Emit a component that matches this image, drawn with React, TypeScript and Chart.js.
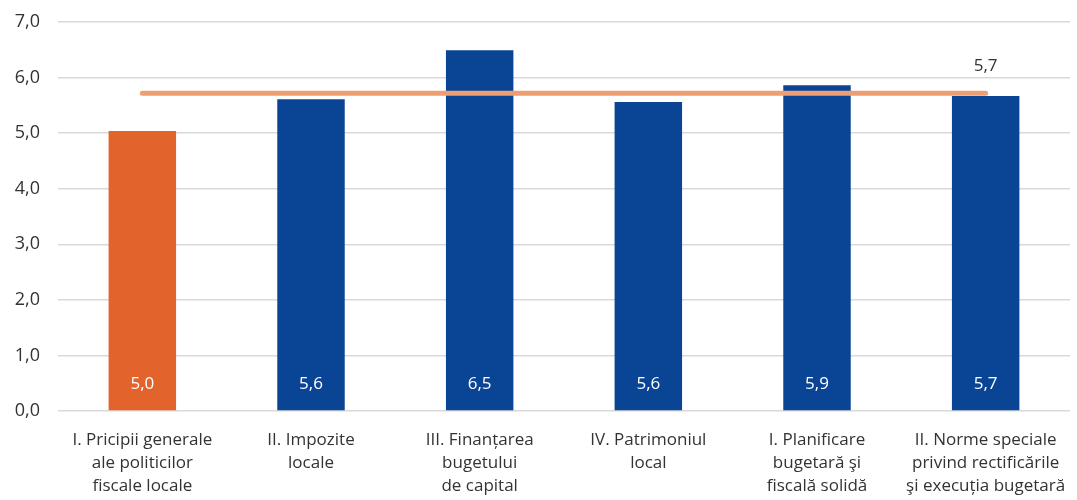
import React, { useEffect, useRef } from "react";
import { Chart, registerables } from "chart.js";

Chart.register(...registerables);

const categories: string[][] = [
  ["I. Pricipii generale", "ale politicilor", "fiscale locale"],
  ["II. Impozite", "locale"],
  ["III. Finanțarea", "bugetului", "de capital"],
  ["IV. Patrimoniul", "local"],
  ["I. Planificare", "bugetară şi", "fiscală solidă"],
  ["II. Norme speciale", "privind rectificările", "şi execuția bugetară"],
];
const barValues: number[] = [5.04, 5.61, 6.49, 5.56, 5.86, 5.67];
const barLabels: string[] = ["5,0", "5,6", "6,5", "5,6", "5,9", "5,7"];
const averageValues: number[] = [5.72, 5.72, 5.72, 5.72, 5.72, 5.72];
const averageLabel = "5,7";
const yTicks: string[] = ["0,0", "1,0", "2,0", "3,0", "4,0", "5,0", "6,0", "7,0"];

const ORANGE = "#E2632C";
const BLUE = "#0A4595";
const FONT = "'Open Sans', 'Noto Sans', sans-serif";

const labelPlugin = {
  id: "valueLabels",
  afterDatasetsDraw(chart: any) {
    const ctx = chart.ctx;
    const yScale = chart.scales.y;
    ctx.save();
    ctx.font = `17px ${FONT}`;
    ctx.textAlign = "center";
    ctx.textBaseline = "middle";
    const barMeta = chart.getDatasetMeta(0);
    barMeta.data.forEach((el: any, i: number) => {
      ctx.fillStyle = "#ffffff";
      ctx.fillText(barLabels[i], el.x, yScale.getPixelForValue(0) - 27);
    });
    const lineMeta = chart.getDatasetMeta(1);
    const last = lineMeta.data[lineMeta.data.length - 1];
    if (last) {
      ctx.fillStyle = "#333333";
      ctx.fillText(averageLabel, last.x, last.y - 27);
    }
    ctx.restore();
  },
};

export default function App() {
  const ref = useRef<HTMLCanvasElement>(null);
  useEffect(() => {
    if (!ref.current) return;
    const chart = new Chart(ref.current, {
      type: "bar",
      data: {
        labels: categories,
        datasets: [
          {
            type: "bar",
            data: barValues,
            backgroundColor: barValues.map((_, i) => (i === 0 ? ORANGE : BLUE)),
            barPercentage: 0.4,
            categoryPercentage: 1,
            order: 2,
          },
          {
            type: "line",
            data: averageValues,
            borderColor: "#EE9E73",
            borderWidth: 5,
            borderCapStyle: "round",
            pointRadius: 0,
            order: 1,
          } as any,
        ],
      },
      options: {
        animation: false,
        responsive: false,
        maintainAspectRatio: false,
        layout: { padding: { top: 22, right: 7, left: 0, bottom: 0 } },
        plugins: { legend: { display: false }, tooltip: { enabled: false } },
        scales: {
          x: {
            offset: true,
            grid: { display: false },
            border: { display: false },
            ticks: {
              color: "#333333",
              font: { family: FONT, size: 17, lineHeight: 1.35 },
              maxRotation: 0,
              autoSkip: false,
              padding: 10,
            },
            afterFit(scale: any) {
              scale.height = 89;
              scale.paddingLeft = 0;
              scale.paddingRight = 0;
            },
          },
          y: {
            min: 0,
            max: 7,
            ticks: {
              stepSize: 1,
              color: "#333333",
              font: { family: FONT, size: 18 },
              padding: 18,
              callback: (v: any) => yTicks[Math.round(Number(v))] ?? "",
            },
            grid: { color: "#D9D9D9", lineWidth: 1.5, drawTicks: false },
            border: { display: false },
            afterFit(scale: any) {
              scale.width = 58;
              scale.paddingTop = 0;
              scale.paddingBottom = 0;
            },
          },
        },
      },
      plugins: [labelPlugin],
    });
    return () => chart.destroy();
  }, []);
  return (
    <div style={{ position: "absolute", left: 0, top: 0, width: 1077, height: 500, background: "#fff" }}>
      <canvas ref={ref} width={1077} height={500} style={{ width: 1077, height: 500 }} />
    </div>
  );
}
